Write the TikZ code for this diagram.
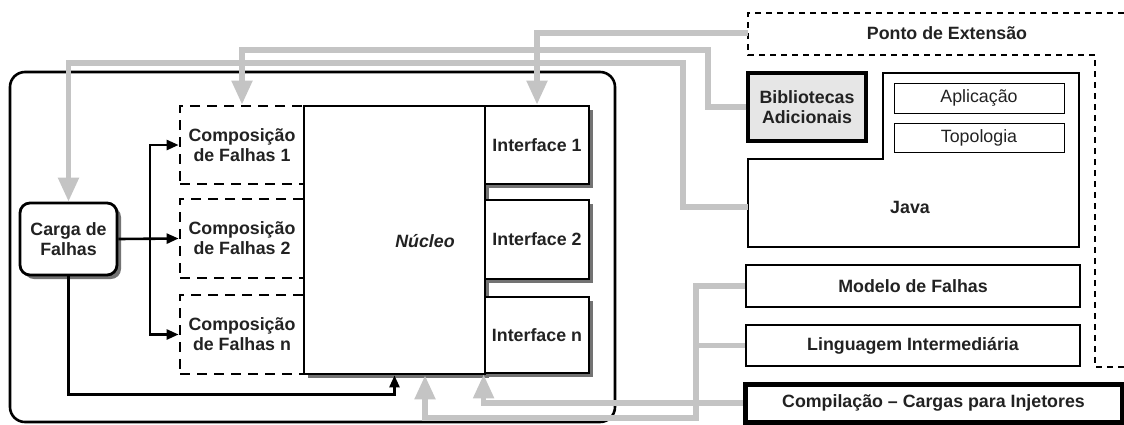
\documentclass[tikz,border=0pt]{standalone}
\usepackage{fontspec}
\setmainfont{Liberation Sans}
\usepackage{tikz}
\usetikzlibrary{positioning, arrows.meta, shadows}
\definecolor{linkgray}{HTML}{C4C4C4}
\definecolor{libfill}{HTML}{E6E6E6}
\definecolor{inkdark}{HTML}{222222}

\tikzset{
  blk/.style={draw, line width=1.4pt, fill=white, inner sep=1pt, align=center, text=inkdark},
  shade/.style={drop shadow={shadow xshift=2pt, shadow yshift=-2pt, fill=black!55, opacity=1}},
  compbox/.style={blk, dash pattern=on 5pt off 3.5pt, minimum width=62pt},
  ifbox/.style={blk, shade, minimum width=52pt},
  layer/.style={blk, minimum width=167pt},
  thinbox/.style={draw, line width=0.5pt, minimum width=85pt, minimum height=14pt,
    font=\fontsize{8.9}{10}\selectfont, text=inkdark},
  link/.style={draw=linkgray, line width=2.6pt, -{Triangle[length=12pt,width=10pt]}},
  feed/.style={line width=1.3pt, -{Triangle[length=6pt,width=5pt]}},
}

\begin{document}
\begin{tikzpicture}[x=0.5pt, y=-0.5pt,
    every node/.append style={font=\fontsize{8.9}{10}\selectfont\bfseries}]
  \useasboundingbox (0,0) rectangle (1124,424);

  % ferramenta
  \draw[line width=1.3pt, rounded corners=7.5pt] (10,72) rectangle (615,422);
  \node[blk, shade, rounded corners=5pt, minimum width=48.5pt, minimum height=36pt]
    (carga) at (68.5,239) {Carga de\\Falhas};
  \node[compbox, minimum height=39pt] (comp1) at (242,145) {Composição\\de Falhas 1};
  \node[compbox, minimum height=39.5pt] (comp2) at (242,238.5) {Composição\\de Falhas 2};
  \node[compbox, minimum height=39.5pt] (compn) at (242,334.5) {Composição\\de Falhas n};
  \node[blk, shade, minimum width=90.5pt, minimum height=134pt] (nucleo) at (394.5,240) {};
  \node[text=inkdark, font=\fontsize{8.9}{10}\selectfont\bfseries\itshape] (nucleotxt) at (425,241) {Núcleo};
  \node[ifbox, minimum height=39pt] (if1) at (537,145) {Interface 1};
  \node[ifbox, minimum height=39.5pt] (if2) at (537,239.5) {Interface 2};
  \node[ifbox, minimum height=38pt] (ifn) at (537,335) {Interface n};

  \coordinate (split) at (150,239);
  \draw[feed] (carga.east) -- (comp2.west);
  \draw[feed] (split) |- (comp1.west);
  \draw[feed] (split) |- (compn.west);
  \draw[feed] (carga.south) -- ++(0,118) -| (nucleo.south);

  % extensao
  \draw[line width=1.3pt, dash pattern=on 3pt off 2.5pt]
    (1124,13) -- (748,13) -- (748,55) -- (1095,55) -- (1095,367) -- (1124,367);
  \node[text=inkdark] (ponto) at (947,33) {Ponto de Extensão};
  \coordinate (pontoW) at (748,33);
  \node[blk, fill=libfill, line width=1.6pt, minimum width=59pt, minimum height=34pt]
    (bib) at (807,107) {Bibliotecas\\Adicionais};
  \draw[line width=1.4pt] (748,159) -- (883,159) -- (883,73) -- (1079,73) -- (1079,247)
    -- (748,247) -- cycle;
  \node[text=inkdark] (java) at (910,207) {Java};
  \coordinate (javaW) at (748,207);
  \node[thinbox] (apl) at (979,98) {Aplicação};
  \node[thinbox] (topo) at (979,138) {Topologia};
  \node[layer, minimum height=21pt] (modelo) at (913,286) {Modelo de Falhas};
  \node[layer, minimum height=20.5pt] (ling) at (913,345.5) {Linguagem Intermediária};
  \node[blk, line width=2.5pt, minimum width=188.5pt, minimum height=19pt]
    (compil) at (933.5,403) {Compilação -- Cargas para Injetores};

  % ligacoes
  \draw[link] (pontoW) -| (if1.north);
  \draw[link] (bib.west) -| (708,50) -| (comp1.north);
  \draw[link] (javaW) -| (683,63) -| (carga.north);
  \draw[link] (modelo.west) -| (696,418) -| ([xshift=15.25pt]nucleo.south);
  \draw[link, -] (ling.west) -- ++(-50,0);
  \draw[link] (compil.west) -| (ifn.south west);
\end{tikzpicture}
\end{document}
